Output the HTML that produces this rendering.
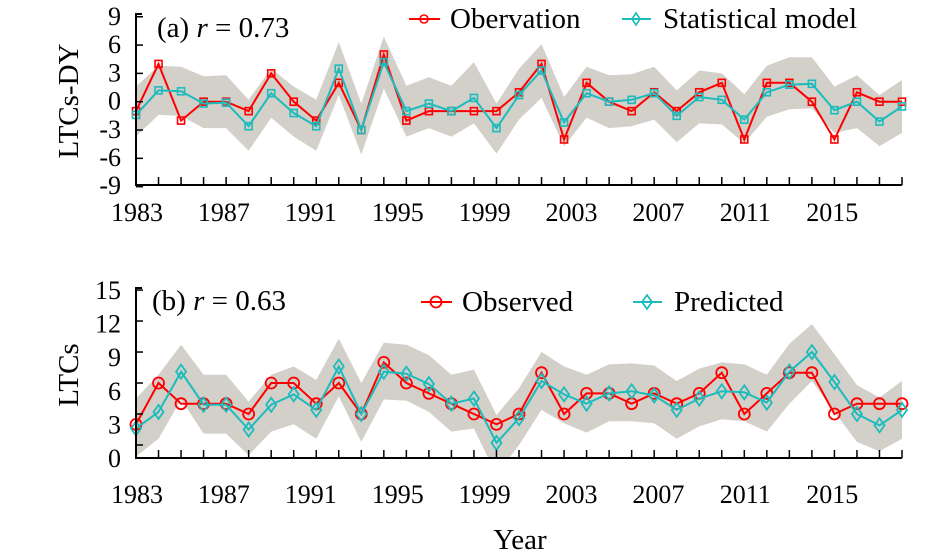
<!DOCTYPE html>
<html><head><meta charset="utf-8"><style>
body{margin:0;background:#fff}
svg{display:block;font-family:"Liberation Serif",serif}
</style></head><body>
<svg id="chart" width="945" height="557" viewBox="0 0 945 557"></svg>
<script>
const years=[1983,1984,1985,1986,1987,1988,1989,1990,1991,1992,1993,1994,1995,1996,1997,1998,1999,2000,2001,2002,2003,2004,2005,2006,2007,2008,2009,2010,2011,2012,2013,2014,2015,2016,2017];
const obsA=[-1,4,-2,0,0,-1,3,0,-2,2,-3,5,-2,-1,-1,-1,-1,1,4,-4,2,0,-1,1,-1,1,2,-4,2,2,0,-4,1,0,0];
const modA=[-1.4,1.2,1.1,-0.2,-0.1,-2.6,0.9,-1.2,-2.6,3.5,-3,4.2,-1,-0.2,-1,0.4,-2.8,0.7,3.3,-2.2,0.9,0,0.2,0.9,-1.5,0.5,0.2,-1.9,1,1.8,1.9,-0.9,0,-2.1,-0.5];
const upA=[1.6,3.8,3.7,2.7,2.8,0.2,3.5,1.6,0.2,6.3,-0.2,6.9,1.7,2.6,1.7,4.2,-0.2,3.5,6.1,0.5,3.7,2.8,2.9,3.7,1.2,3.3,3,0.8,3.8,4.7,4.7,1.6,2.8,0.7,2.3];
const loA=[-3.7,-1.4,-1.5,-2.8,-2.8,-5.2,-1.7,-3.7,-5.2,0.7,-5.6,1.4,-3.7,-2.8,-3.7,-2.3,-5.5,-1.9,0.4,-4.7,-1.7,-2.8,-2.6,-1.9,-4.3,-2.3,-2.4,-4.4,-1.6,-0.8,-0.7,-3.3,-2.8,-4.7,-3.3];
const obsB=[2,6,4,4,4,3,6,6,4,6,3,8,6,5,4,3,2,3,7,3,5,5,4,5,4,5,7,3,5,7,7,3,4,4,4];
const predB=[1.6,3.2,7.1,3.9,3.9,1.5,3.9,4.9,3.4,7.6,3,7.1,6.9,5.9,4,4.5,0.2,2.6,6.2,4.9,4,5,5.2,4.8,3.4,4.5,5.2,5.1,4.1,7.1,9,6.1,3,1.9,3.4];
const upB=[4.5,6.8,9.7,6.8,6.8,4.2,6.8,7.6,6.3,10.3,6,9.9,9.7,8.7,6.8,7.3,2.9,5.5,9,7.6,6.8,7.8,7.9,7.7,6.2,7.4,8,7.8,6.8,9.8,11.7,8.8,5.8,4.6,6.2];
const loB=[-1.1,0.6,4.4,1.1,1.1,-1,1.3,2,0.6,4.7,0.3,4.4,4.3,3.2,1.3,1.6,-2.9,0,3.4,2.1,1.2,2.3,2.3,2.1,0.6,1.8,2.5,2.3,1.3,4,6.2,3.2,0.3,-0.6,0.6];
const yTicksA=[9,6,3,0,-3,-6,-9];
const yTicksB=[15,12,9,6,3,0];
const xLabels=[1983,1987,1991,1995,1999,2003,2007,2011,2015];

const NS="http://www.w3.org/2000/svg";
const svg=document.getElementById('chart');
function mk(tag,attrs,parent){const e=document.createElementNS(NS,tag);for(const k in attrs)e.setAttribute(k,attrs[k]);(parent||svg).appendChild(e);return e;}
const X0=136,X1=902;
function xs(i){return X0+i*(X1-X0)/(years.length-1);}
const yA=v=>101.7-v*9.44;
const yB=v=>445-v*10.33;
const RED="#ff0000",CYAN="#1cbcbc",BAND="#d3cfc9";

function panel(name,up,lo,s1,s2,ys,clipTop,clipBot,ticks,tickLabelY,axisY,marker2,marker1){
  const g=mk('g',{});
  
  
  const cid='clip-'+name;
  const cp=mk('clipPath',{id:cid},g);mk('rect',{x:X0,y:clipTop,width:X1-X0,height:clipBot-clipTop},cp);
  let d='';up.forEach((v,i)=>{d+=(i?'L':'M')+xs(i).toFixed(1)+','+ys(v).toFixed(1);});
  for(let i=lo.length-1;i>=0;i--)d+='L'+xs(i).toFixed(1)+','+ys(lo[i]).toFixed(1);
  const band=mk('path',{d:d+'Z',fill:BAND,'clip-path':`url(#${cid})`},g);
  
  
  [[s1,RED,marker1,'observed-line'],[s2,CYAN,marker2,'model-line']].forEach(([s,c,m,nm])=>{
    const pts=s.map((v,i)=>xs(i).toFixed(1)+','+ys(v).toFixed(1)).join(' ');
    const pl=mk('polyline',{points:pts,fill:'none',stroke:c,'stroke-width':2},g);
    
    
    s.forEach((v,i)=>{
      const x=xs(i),y=ys(v);let e;
      if(m==='sq')e=mk('rect',{x:x-3.5,y:y-3.5,width:7,height:7,fill:'none',stroke:c,'stroke-width':1.6},g);
      else if(m==='circ')e=mk('circle',{cx:x,cy:y,r:5.5,fill:'none',stroke:c,'stroke-width':1.8},g);
      else e=mk('path',{d:`M${x},${y-7}L${x+5},${y}L${x},${y+7}L${x-5},${y}Z`,fill:'none',stroke:c,'stroke-width':1.8},g);
      
      
    });
  });
  const ax=mk('path',{d:`M${X0+6},${clipTop-2}H${X0}V${axisY}H${X1}`,fill:'none',stroke:'#000','stroke-width':2},g);
  
  
  years.forEach((y,i)=>{if(i>0)mk('line',{x1:xs(i),x2:xs(i),y1:axisY,y2:axisY-8,stroke:'#000','stroke-width':1.5},g);});
  ticks.forEach((t,i)=>{
    mk('line',{x1:X0,x2:X0+7,y1:ys(t),y2:ys(t),stroke:'#000','stroke-width':1.5},g);
    const tl=mk('text',{x:121,y:tickLabelY(i)+9,'text-anchor':'end','font-size':26},g);
    tl.textContent=t;
    
    
  });
  return g;
}
panel('panel-a',upA,loA,obsA,modA,yA,16,185,yTicksA,i=>16+i*28.2,185,'sq','sq');
panel('panel-b',upB,loB,obsB,predB,yB,290,458,yTicksB,i=>290+i*33.6,458,'dia','circ');

xLabels.forEach((l,k)=>{
  [221,503].forEach((yy,p)=>{
    const t=mk('text',{x:137+k*86.9,y:yy,'text-anchor':'middle','font-size':26});
    t.textContent=l;
    
    
  });
});
</script>
<div style="position:absolute;left:0;top:0;width:945px;height:557px;pointer-events:none;">
<svg width="945" height="557" style="position:absolute;left:0;top:0">
<text x="157" y="37" font-size="29" font-family="Liberation Serif">(a) <tspan font-style="italic">r</tspan> = 0.73</text>
<text x="152" y="310" font-size="29" font-family="Liberation Serif">(b) <tspan font-style="italic">r</tspan> = 0.63</text>
<g><line x1="409" x2="440" y1="19" y2="19" stroke="#ff0000" stroke-width="2"/><circle cx="424" cy="19" r="4" fill="none" stroke="#ff0000" stroke-width="1.6"/><text x="450" y="28" font-size="29" font-family="Liberation Serif">Obervation</text></g>
<g><line x1="622" x2="651" y1="19" y2="19" stroke="#1cbcbc" stroke-width="2"/><path d="M636,13L640,19L636,25L632,19Z" fill="none" stroke="#1cbcbc" stroke-width="1.6"/><text x="663" y="28" font-size="29" font-family="Liberation Serif">Statistical model</text></g>
<g><line x1="421" x2="452" y1="302" y2="302" stroke="#ff0000" stroke-width="2"/><circle cx="436" cy="302" r="5.5" fill="none" stroke="#ff0000" stroke-width="1.8"/><text x="462" y="311" font-size="29" font-family="Liberation Serif">Observed</text></g>
<g><line x1="633" x2="662" y1="302" y2="302" stroke="#1cbcbc" stroke-width="2"/><path d="M647,295L652,302L647,309L642,302Z" fill="none" stroke="#1cbcbc" stroke-width="1.8"/><text x="674" y="311" font-size="29" font-family="Liberation Serif">Predicted</text></g>
<text transform="translate(78,101) rotate(-90)" text-anchor="middle" font-size="29" font-family="Liberation Serif">LTCs-DY</text>
<text transform="translate(78,375) rotate(-90)" text-anchor="middle" font-size="29" font-family="Liberation Serif">LTCs</text>
<text x="520" y="549" text-anchor="middle" font-size="29" font-family="Liberation Serif">Year</text>
</svg>
</div>
</body></html>
